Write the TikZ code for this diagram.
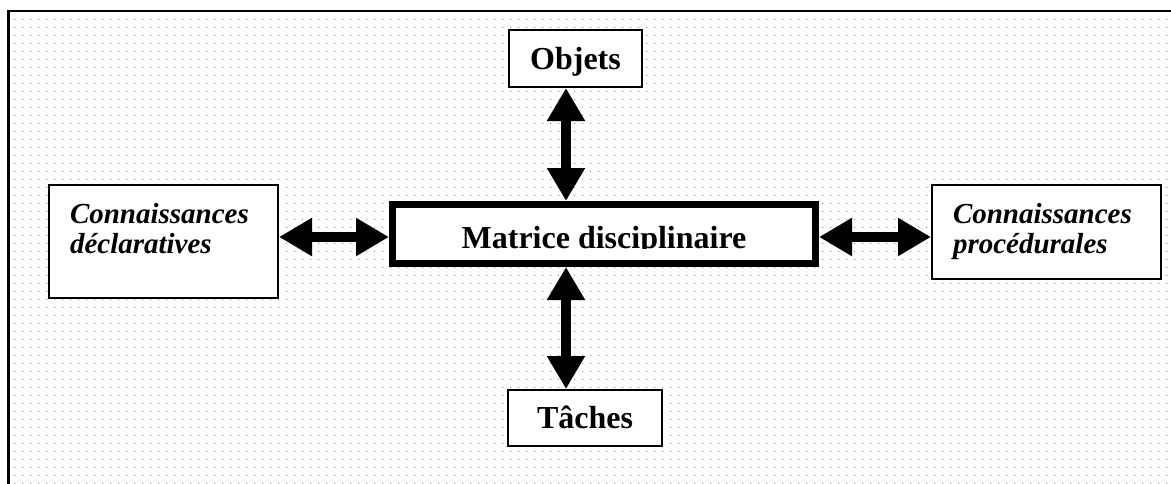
\documentclass[tikz,border=0pt]{standalone}
\usepackage{fontspec}
\setmainfont{Liberation Serif}
\usetikzlibrary{arrows.meta,patterns.meta}
\newcommand{\boldfont}{\fontsize{32}{36}\selectfont\bfseries}
\newcommand{\sidefont}{\fontsize{29}{30}\selectfont\bfseries\itshape}

\begin{document}
\begin{tikzpicture}[x=1pt,y=-1pt,
	box/.style={draw,line width=2pt,fill=white,inner sep=0pt,text height=21pt,text depth=0pt,font=\boldfont},
	sidebox/.style={draw,line width=2pt,fill=white,anchor=north west,align=left,text width=187pt,inner xsep=21pt,inner ysep=9pt,text height=29pt,font=\sidefont},
	dblarrow/.style={line width=10pt,{Triangle[length=33pt,width=36pt]}-{Triangle[length=33pt,width=36pt]}}]
	\clip (0,0) rectangle (1171,483);
	\draw[line width=2.5pt,preaction={fill=white},pattern={Dots[distance=7.65pt,radius=0.8pt]},pattern color=black!35] (8.7,11) rectangle (1200,520);

	\node[box,minimum width=423pt,minimum height=59pt,line width=7pt,path picture={
			\clip ([yshift=-14.3pt]path picture bounding box.west) rectangle (path picture bounding box.north east);
			\node[anchor=base,inner sep=0pt,font=\boldfont] (mattxt) at ([yshift=-14pt]path picture bounding box.center) {Matrice disciplinaire};
		}] (mat) at (604,234) {};
	\node[box,minimum width=133pt,minimum height=57pt] (obj) at (575.5,58.5) {Objets};
	\node[box,minimum width=154pt,minimum height=56pt] (task) at (585,418) {Tâches};
	\node[sidebox,text depth=66pt] (decl) at (48,184) {Connaissances\\déclaratives};
	\node[sidebox,text depth=47pt] (proc) at (931,184) {Connaissances\\procédurales};

	\coordinate (vaxis) at (566,0);
	\coordinate (haxis) at (0,237);
	\path (obj.south -| vaxis) edge[dblarrow] (mat.north -| vaxis)
		(mat.south -| vaxis) edge[dblarrow] (task.north -| vaxis)
		(decl.east |- haxis) edge[dblarrow] (mat.west |- haxis)
		(mat.east |- haxis) edge[dblarrow] (proc.west |- haxis);
\end{tikzpicture}
\end{document}
